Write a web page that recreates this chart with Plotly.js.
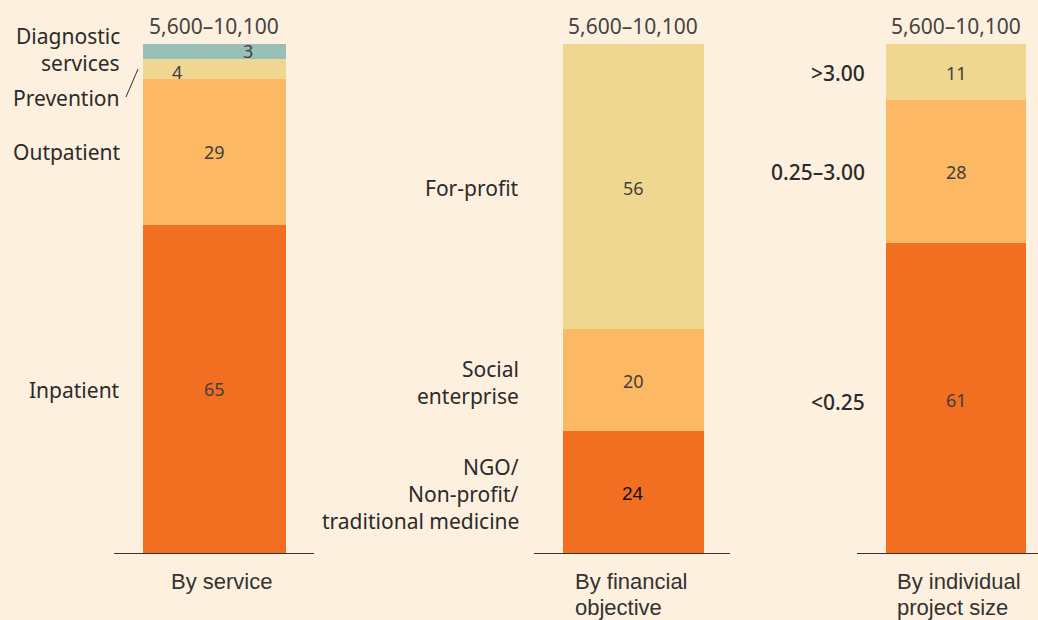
<!DOCTYPE html>
<html>
<head>
<meta charset="utf-8">
<script src="https://cdn.plot.ly/plotly-3.0.1.min.js"></script>
<style>html,body{margin:0;padding:0;background:#fdf0de;}</style>
</head>
<body>
<div id="chart" style="width:1038px;height:620px;"></div>
<script>
// ---- data ----
const groupLabels = ['By service', 'By financial<br>objective', 'By individual<br>project size'];
const totalLabel = '5,600–10,100';
const serviceCats = ['Inpatient', 'Outpatient', 'Prevention', 'Diagnostic<br>services'];
const serviceVals = [65, 29, 4, 3];
const financeCats = ['NGO/<br>Non-profit/<br>traditional medicine', 'Social<br>enterprise', 'For-profit'];
const financeVals = [24, 20, 56];
const sizeCats = ['<0.25', '0.25–3.00', '>3.00'];
const sizeVals = [61, 28, 11];

// ---- style ----
const W = 1038, H = 620, MT = 44, MB = 67;
const PH = H - MT - MB;
const colors = ['#f26f22', '#fcb862', '#f0d791', '#98c0b8'];
const bg = '#fdf0de';
const catFont = {family: 'Noto Sans, Open Sans, sans-serif', size: 21, color: '#2b2b2b'};
const valFont = {family: 'Noto Sans, Open Sans, sans-serif', size: 18, color: '#3f3f3f'};
const topFont = {family: 'Noto Sans, Open Sans, sans-serif', size: 21, color: '#444444'};
const botFont = {family: 'Liberation Sans, Arial, sans-serif', size: 22, color: '#333333'};

const panels = [
  {cats: serviceCats, vals: serviceVals, axis: [114, 314], range: [-0.5, 0.5], width: 0.715,
   labelRight: 122, catShift: [-1, 0, -29, 2], valX: [0, 0, -37, 34], valY: [0, 0, -3, 1],
   valFonts: [null, null, null, null], catWeight: 400, botX: 221, botAnchor: 'center'},
  {cats: financeCats, vals: financeVals, axis: [534, 730], range: [-0.507, 0.493], width: 0.72,
   labelRight: 521, catShift: [-2, -3, -1], valX: [0, 0, 0], valY: [-2, -1, -1],
   valFonts: [{family: 'Liberation Sans, Arial, sans-serif', size: 19, color: '#111111'}, null, null],
   catWeight: 400, botX: 573, botAnchor: 'left'},
  {cats: sizeCats, vals: sizeVals, axis: [857, 1038], range: [-0.547, 0.453], width: 0.773,
   labelRight: 867, catShift: [-4, -1, -1], valX: [0, 0, 0], valY: [-2, -1, -1],
   valFonts: [null, null, null], catWeight: 500, botX: 895, botAnchor: 'left'}
];

const traces = [];
const annotations = [];
const shapes = [];
const layout = {
  width: W, height: H,
  margin: {l: 0, r: 0, t: MT, b: MB, pad: 0},
  paper_bgcolor: bg, plot_bgcolor: bg,
  barmode: 'stack', showlegend: false,
  annotations: annotations, shapes: shapes
};

function addLines(text, base) {
  const lines = text.split('<br>');
  const n = lines.length;
  const spacing = base.spacing || 27;
  lines.forEach((ln, i) => {
    const a = Object.assign({}, base);
    delete a.spacing;
    a.text = ln;
    a.yshift = (base.yshift || 0) - (i - (n - 1) / 2) * spacing;
    annotations.push(a);
  });
}

panels.forEach((p, k) => {
  const sfx = k === 0 ? '' : String(k + 1);
  const xa = 'x' + sfx, ya = 'y' + sfx;
  const total = p.vals.reduce((a, b) => a + b, 0);
  layout['xaxis' + sfx] = {
    domain: [p.axis[0] / W, Math.min(1, p.axis[1] / W)], anchor: ya,
    range: p.range, showline: true, linecolor: '#333333', linewidth: 1.3,
    showticklabels: false, showgrid: false, zeroline: false, ticks: '', fixedrange: true
  };
  layout['yaxis' + sfx] = {
    domain: [0, 1], anchor: xa, range: [0, total], visible: false,
    showgrid: false, zeroline: false, fixedrange: true
  };
  let cum = 0;
  p.vals.forEach((v, i) => {
    traces.push({
      type: 'bar', x: [0], y: [v], xaxis: xa, yaxis: ya, width: p.width,
      marker: {color: colors[i], line: {width: 0}}, hoverinfo: 'skip', cliponaxis: false
    });
    const mid = cum + v / 2;
    cum += v;
    // value label
    annotations.push({
      xref: xa, yref: ya, x: 0, y: mid, text: String(v), showarrow: false,
      xshift: p.valX[i], yshift: p.valY[i],
      font: p.valFonts[i] || valFont
    });
    // category label
    addLines(p.cats[i], {
      xref: 'paper', yref: ya, x: p.labelRight / W, y: mid, xanchor: 'right',
      yanchor: 'middle', align: 'right', showarrow: false, yshift: p.catShift[i],
      font: Object.assign({}, catFont, {weight: p.catWeight})
    });
  });
  // top total label
  annotations.push({
    xref: xa, yref: 'paper', x: 0, y: 1, yanchor: 'bottom', yshift: 2,
    text: totalLabel, showarrow: false, font: topFont
  });
  // bottom group label
  addLines(groupLabels[k], {
    xref: 'paper', yref: 'paper', x: p.botX / W, y: 0, xanchor: p.botAnchor,
    align: p.botAnchor === 'left' ? 'left' : 'center', yanchor: 'middle',
    yshift: -28 - (groupLabels[k].split('<br>').length - 1) * 13, showarrow: false,
    font: botFont, spacing: 26
  });
});

// leader line for "Prevention"
shapes.push({
  type: 'line', xref: 'paper', yref: 'paper',
  x0: 126 / W, y0: (H - MB - 97) / PH, x1: 138 / W, y1: (H - MB - 69) / PH,
  line: {color: '#333333', width: 1}
});

Plotly.newPlot('chart', traces, layout, {staticPlot: true, displayModeBar: false});
</script>
</body>
</html>
